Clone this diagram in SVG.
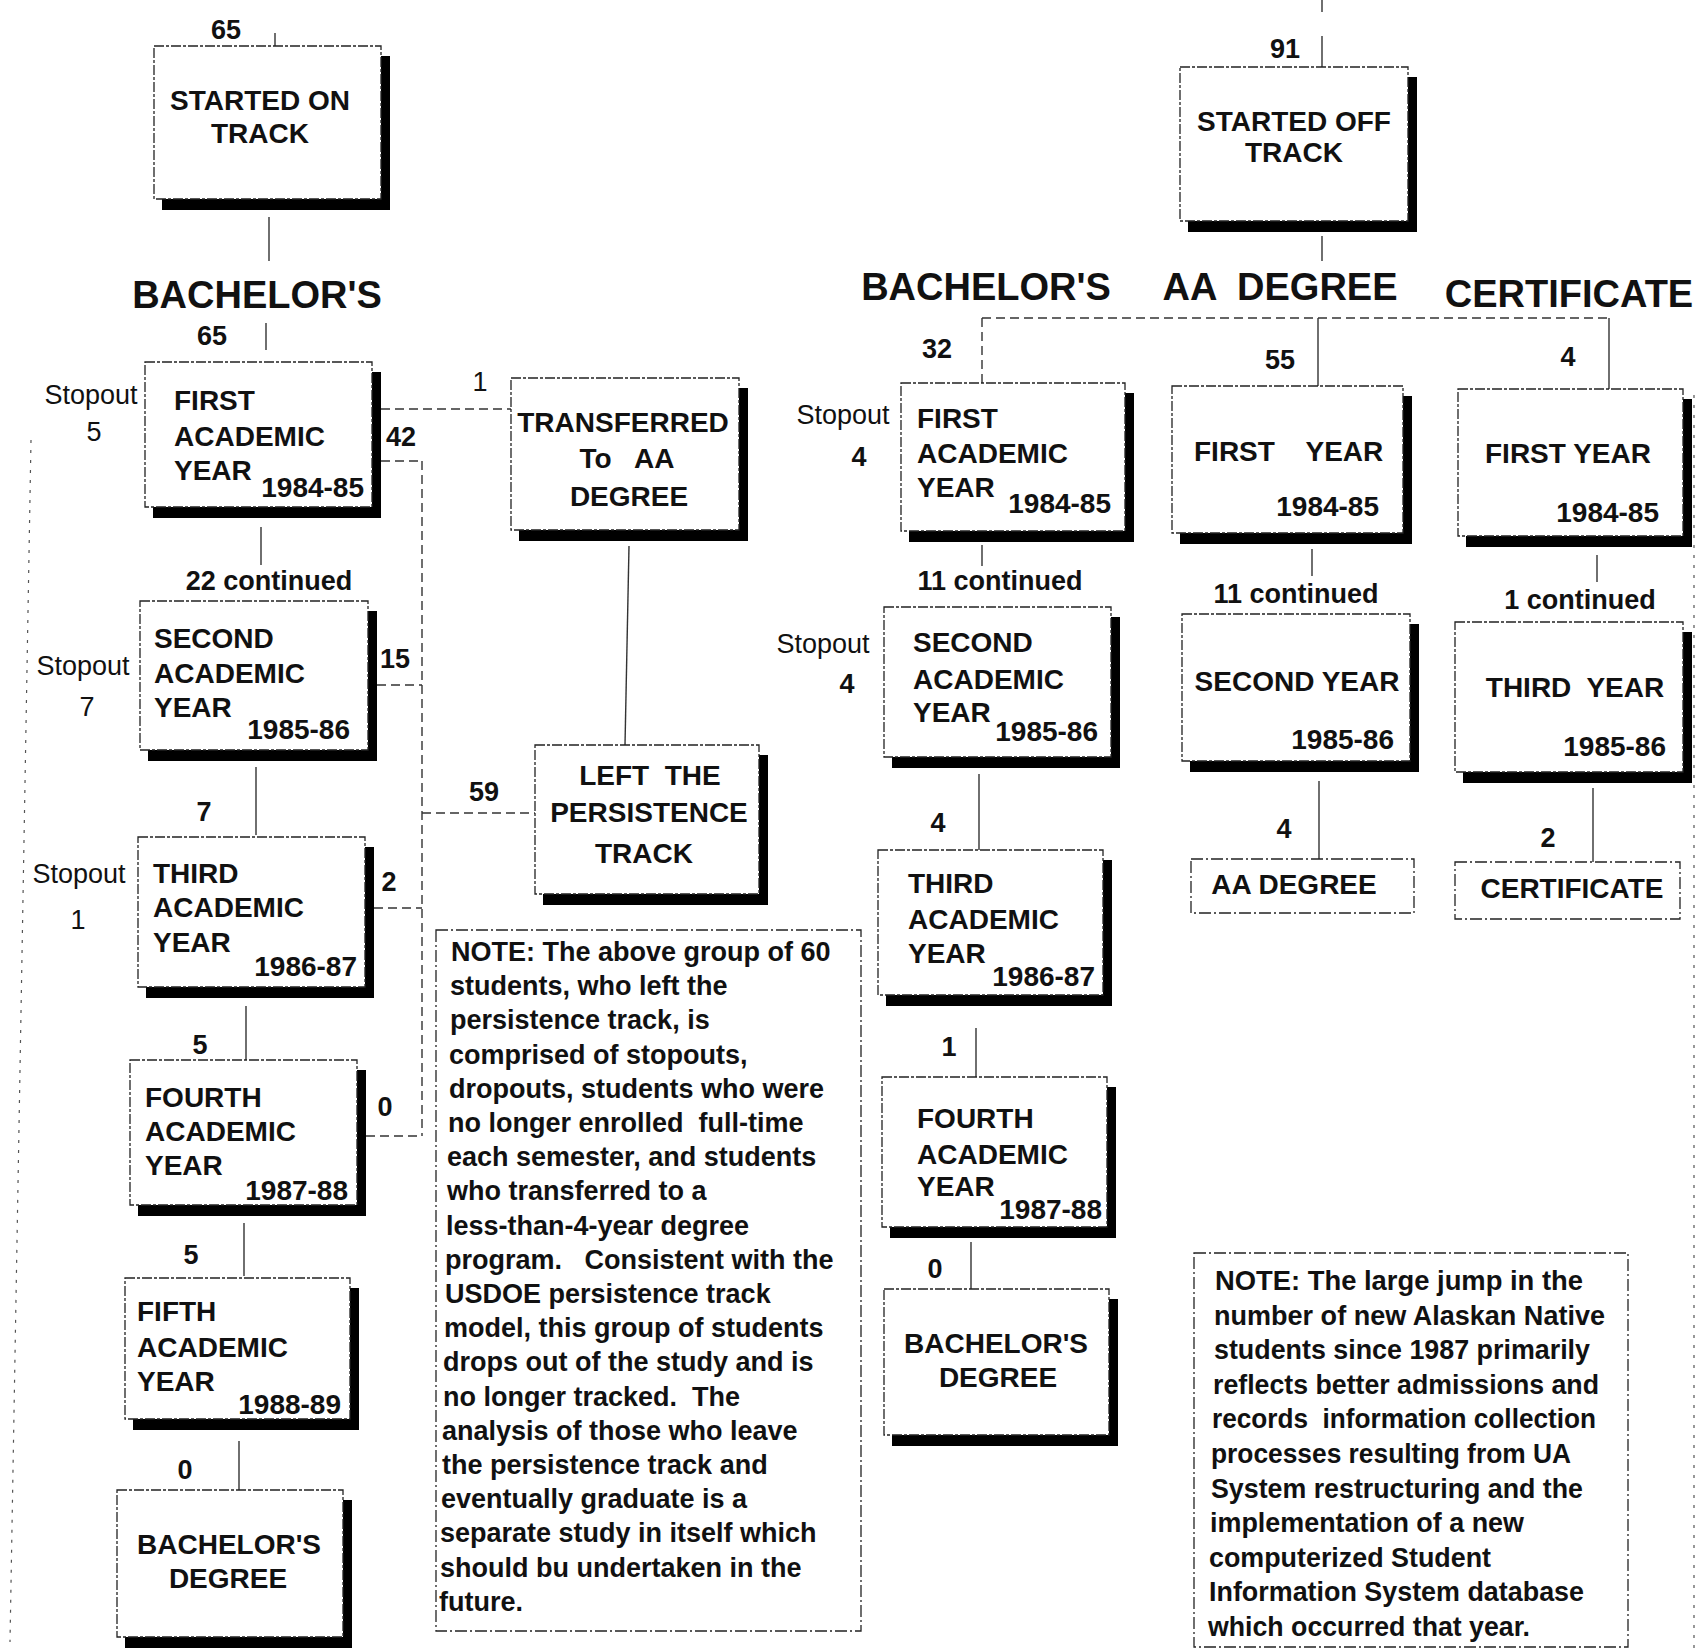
<svg xmlns="http://www.w3.org/2000/svg" width="1705" height="1650" viewBox="0 0 1705 1650">
<style>
  .bg{fill:#fff}
  .bx{fill:#fff;stroke:#222;stroke-width:1.3;stroke-dasharray:10 2 3 2}
  .nb{fill:none;stroke:#222;stroke-width:1.3;stroke-dasharray:12 3 2 3}
  .sh{fill:#000}
  .ln{stroke:#333;stroke-width:1.4;fill:none}
  .dl{stroke:#333;stroke-width:1.4;fill:none;stroke-dasharray:9 5}
  .rl{stroke:#555;stroke-width:1.2;fill:none;stroke-dasharray:3 7}
  text{font-family:"Liberation Sans",Arial,sans-serif;fill:#111}
  .t{font-size:28px;font-weight:700}
  .h{font-size:38px;font-weight:700}
  .c{font-size:27px;font-weight:700}
  .s{font-size:27px;font-weight:400}
  .n1{font-size:27px;font-weight:700}
  .n2{font-size:28px;font-weight:700}
  .m{text-anchor:middle}
  .e{text-anchor:end}
</style>
<rect class="bg" x="0" y="0" width="1705" height="1650"/>

<!-- connectors -->
<g id="connectors">
  <!-- on-track column -->
  <line class="ln" x1="275" y1="33" x2="275" y2="46"/>
  <line class="ln" x1="269" y1="217" x2="269" y2="261"/>
  <line class="ln" x1="266" y1="323" x2="266" y2="350"/>
  <line class="ln" x1="261" y1="527" x2="261" y2="565"/>
  <line class="ln" x1="256" y1="767" x2="256" y2="835"/>
  <line class="ln" x1="246" y1="1006" x2="246" y2="1060"/>
  <line class="ln" x1="244" y1="1223" x2="244" y2="1276"/>
  <line class="ln" x1="239" y1="1441" x2="239" y2="1490"/>
  <!-- stopout rail -->
  <line class="rl" x1="31" y1="440" x2="10" y2="1642"/>
  <!-- transfer and leaving branches -->
  <line class="dl" x1="381" y1="409" x2="511" y2="409"/>
  <line class="dl" x1="381" y1="461" x2="422" y2="461"/>
  <line class="dl" x1="422" y1="461" x2="422" y2="1136"/>
  <line class="dl" x1="377" y1="685" x2="422" y2="685"/>
  <line class="dl" x1="374" y1="908" x2="422" y2="908"/>
  <line class="dl" x1="366" y1="1136" x2="422" y2="1136"/>
  <line class="dl" x1="422" y1="813" x2="535" y2="813"/>
  <line class="ln" x1="629" y1="546" x2="625" y2="745"/>
  <!-- off-track columns -->
  <line class="ln" x1="1322" y1="0" x2="1322" y2="12"/>
  <line class="ln" x1="1322" y1="36" x2="1322" y2="67"/>
  <line class="ln" x1="1322" y1="236" x2="1322" y2="261"/>
  <line class="dl" x1="982" y1="318" x2="1609" y2="318"/>
  <line class="dl" x1="982" y1="318" x2="982" y2="383"/>
  <line class="ln" x1="1318" y1="318" x2="1318" y2="386"/>
  <line class="ln" x1="1609" y1="318" x2="1609" y2="389"/>
  <line class="ln" x1="982" y1="545" x2="982" y2="566"/>
  <line class="ln" x1="1312" y1="549" x2="1312" y2="576"/>
  <line class="ln" x1="1597" y1="555" x2="1597" y2="582"/>
  <line class="ln" x1="979" y1="774" x2="979" y2="850"/>
  <line class="ln" x1="1319" y1="781" x2="1319" y2="859"/>
  <line class="ln" x1="1593" y1="788" x2="1593" y2="862"/>
  <line class="ln" x1="976" y1="1028" x2="976" y2="1077"/>
  <line class="ln" x1="971" y1="1242" x2="971" y2="1289"/>
  <line class="rl" x1="1694" y1="395" x2="1694" y2="1648"/>
</g>

<!-- count and stopout labels -->
<g id="labels">
  <text class="c m" x="226" y="39">65</text>
  <text class="h m" x="257" y="308">BACHELOR'S</text>
  <text class="c m" x="212" y="345">65</text>
  <text class="s m" x="91" y="404">Stopout</text>
  <text class="s m" x="94" y="441">5</text>
  <text class="c m" x="401" y="446">42</text>
  <text class="s m" x="480" y="391">1</text>
  <text class="c m" x="269" y="590">22 continued</text>
  <text class="s m" x="83" y="675">Stopout</text>
  <text class="s m" x="87" y="716">7</text>
  <text class="c m" x="395" y="668">15</text>
  <text class="c m" x="204" y="821">7</text>
  <text class="s m" x="79" y="883">Stopout</text>
  <text class="s m" x="78" y="929">1</text>
  <text class="c m" x="389" y="891">2</text>
  <text class="c m" x="200" y="1054">5</text>
  <text class="c m" x="385" y="1116">0</text>
  <text class="c m" x="191" y="1264">5</text>
  <text class="c m" x="185" y="1479">0</text>
  <text class="c m" x="484" y="801">59</text>

  <text class="c m" x="1285" y="58">91</text>
  <text class="h m" x="986" y="300">BACHELOR'S</text>
  <text class="h m" x="1280" y="300" xml:space="preserve">AA  DEGREE</text>
  <text class="h m" x="1569" y="307">CERTIFICATE</text>
  <text class="c m" x="937" y="358">32</text>
  <text class="c m" x="1280" y="369">55</text>
  <text class="c m" x="1568" y="366">4</text>
  <text class="s m" x="843" y="424">Stopout</text>
  <text class="c m" x="859" y="466">4</text>
  <text class="c m" x="1000" y="590">11 continued</text>
  <text class="c m" x="1296" y="603">11 continued</text>
  <text class="c m" x="1580" y="609">1 continued</text>
  <text class="s m" x="823" y="653">Stopout</text>
  <text class="c m" x="847" y="693">4</text>
  <text class="c m" x="938" y="832">4</text>
  <text class="c m" x="1284" y="838">4</text>
  <text class="c m" x="1548" y="847">2</text>
  <text class="c m" x="949" y="1056">1</text>
  <text class="c m" x="935" y="1278">0</text>
</g>

<!-- on-track bachelor's column -->
<g id="started-on-track">
  <path class="sh" d="M162 199H381V56h9V210H162Z"/>
  <rect class="bx" x="154" y="46" width="227" height="153"/>
  <text class="t m" x="260" y="110">STARTED ON</text>
  <text class="t m" x="260" y="143">TRACK</text>
</g>
<g id="on-first-year">
  <path class="sh" d="M153 507H372V372h9V518H153Z"/>
  <rect class="bx" x="145" y="362" width="227" height="145"/>
  <text class="t" x="174" y="410">FIRST</text>
  <text class="t" x="174" y="446">ACADEMIC</text>
  <text class="t" x="174" y="480">YEAR</text>
  <text class="t e" x="364" y="497">1984-85</text>
</g>
<g id="on-second-year">
  <path class="sh" d="M148 750H368V611h9V761H148Z"/>
  <rect class="bx" x="140" y="601" width="228" height="149"/>
  <text class="t" x="154" y="648">SECOND</text>
  <text class="t" x="154" y="683">ACADEMIC</text>
  <text class="t" x="154" y="717">YEAR</text>
  <text class="t e" x="350" y="739">1985-86</text>
</g>
<g id="on-third-year">
  <path class="sh" d="M146 987H365V847h9V998H146Z"/>
  <rect class="bx" x="138" y="837" width="227" height="150"/>
  <text class="t" x="153" y="883">THIRD</text>
  <text class="t" x="153" y="917">ACADEMIC</text>
  <text class="t" x="153" y="952">YEAR</text>
  <text class="t e" x="357" y="976">1986-87</text>
</g>
<g id="on-fourth-year">
  <path class="sh" d="M138 1205H357V1070h9V1216H138Z"/>
  <rect class="bx" x="130" y="1060" width="227" height="145"/>
  <text class="t" x="145" y="1107">FOURTH</text>
  <text class="t" x="145" y="1141">ACADEMIC</text>
  <text class="t" x="145" y="1175">YEAR</text>
  <text class="t e" x="348" y="1200">1987-88</text>
</g>
<g id="on-fifth-year">
  <path class="sh" d="M133 1419H350V1288h9V1430H133Z"/>
  <rect class="bx" x="125" y="1278" width="225" height="141"/>
  <text class="t" x="137" y="1321">FIFTH</text>
  <text class="t" x="137" y="1357">ACADEMIC</text>
  <text class="t" x="137" y="1391">YEAR</text>
  <text class="t e" x="341" y="1414">1988-89</text>
</g>
<g id="on-bachelors-degree">
  <path class="sh" d="M125 1637H343V1500h9V1648H125Z"/>
  <rect class="bx" x="117" y="1490" width="226" height="147"/>
  <text class="t m" x="229" y="1554">BACHELOR'S</text>
  <text class="t m" x="228" y="1588">DEGREE</text>
</g>

<!-- middle column -->
<g id="transferred-aa">
  <path class="sh" d="M519 530H739V388h9V541H519Z"/>
  <rect class="bx" x="511" y="378" width="228" height="152"/>
  <text class="t m" x="623" y="432">TRANSFERRED</text>
  <text class="t m" x="627" y="468" xml:space="preserve">To   AA</text>
  <text class="t m" x="629" y="506">DEGREE</text>
</g>
<g id="left-persistence">
  <path class="sh" d="M543 894H759V755h9V905H543Z"/>
  <rect class="bx" x="535" y="745" width="224" height="149"/>
  <text class="t m" x="650" y="785" xml:space="preserve">LEFT  THE</text>
  <text class="t m" x="649" y="822">PERSISTENCE</text>
  <text class="t m" x="644" y="863">TRACK</text>
</g>
<g id="note-left-track">
  <rect class="nb" x="436" y="930" width="425" height="701"/>
  <text class="n1" x="451" y="961">NOTE: The above group of 60</text>
  <text class="n1" x="450" y="995">students, who left the</text>
  <text class="n1" x="450" y="1029">persistence track, is</text>
  <text class="n1" x="449" y="1064">comprised of stopouts,</text>
  <text class="n1" x="449" y="1098">dropouts, students who were</text>
  <text class="n1" x="448" y="1132" xml:space="preserve">no longer enrolled  full-time</text>
  <text class="n1" x="447" y="1166">each semester, and students</text>
  <text class="n1" x="447" y="1200">who transferred to a</text>
  <text class="n1" x="446" y="1235">less-than-4-year degree</text>
  <text class="n1" x="445" y="1269" xml:space="preserve">program.   Consistent with the</text>
  <text class="n1" x="445" y="1303">USDOE persistence track</text>
  <text class="n1" x="444" y="1337">model, this group of students</text>
  <text class="n1" x="443" y="1371">drops out of the study and is</text>
  <text class="n1" x="443" y="1406" xml:space="preserve">no longer tracked.  The</text>
  <text class="n1" x="442" y="1440">analysis of those who leave</text>
  <text class="n1" x="442" y="1474">the persistence track and</text>
  <text class="n1" x="441" y="1508">eventually graduate is a</text>
  <text class="n1" x="440" y="1542">separate study in itself which</text>
  <text class="n1" x="440" y="1577">should bu undertaken in the</text>
  <text class="n1" x="439" y="1611">future.</text>
</g>

<!-- off-track columns -->
<g id="started-off-track">
  <path class="sh" d="M1188 221H1408V77h9V232H1188Z"/>
  <rect class="bx" x="1180" y="67" width="228" height="154"/>
  <text class="t m" x="1294" y="131">STARTED OFF</text>
  <text class="t m" x="1294" y="162">TRACK</text>
</g>
<g id="off-ba-first-year">
  <path class="sh" d="M909 531H1125V393h9V542H909Z"/>
  <rect class="bx" x="901" y="383" width="224" height="148"/>
  <text class="t" x="917" y="428">FIRST</text>
  <text class="t" x="917" y="463">ACADEMIC</text>
  <text class="t" x="917" y="497">YEAR</text>
  <text class="t e" x="1111" y="513">1984-85</text>
</g>
<g id="off-aa-first-year">
  <path class="sh" d="M1180 533H1403V396h9V544H1180Z"/>
  <rect class="bx" x="1172" y="386" width="231" height="147"/>
  <text class="t" x="1194" y="461" xml:space="preserve">FIRST    YEAR</text>
  <text class="t e" x="1379" y="516">1984-85</text>
</g>
<g id="off-cert-first-year">
  <path class="sh" d="M1466 536H1683V399h9V547H1466Z"/>
  <rect class="bx" x="1458" y="389" width="225" height="147"/>
  <text class="t m" x="1568" y="463">FIRST YEAR</text>
  <text class="t e" x="1659" y="522">1984-85</text>
</g>
<g id="off-ba-second-year">
  <path class="sh" d="M892 757H1111V617h9V768H892Z"/>
  <rect class="bx" x="884" y="607" width="227" height="150"/>
  <text class="t" x="913" y="652">SECOND</text>
  <text class="t" x="913" y="689">ACADEMIC</text>
  <text class="t" x="913" y="722">YEAR</text>
  <text class="t e" x="1098" y="741">1985-86</text>
</g>
<g id="off-aa-second-year">
  <path class="sh" d="M1190 761H1410V624h9V772H1190Z"/>
  <rect class="bx" x="1182" y="614" width="228" height="147"/>
  <text class="t m" x="1297" y="691">SECOND YEAR</text>
  <text class="t e" x="1394" y="749">1985-86</text>
</g>
<g id="off-cert-third-year">
  <path class="sh" d="M1463 772H1683V632h9V783H1463Z"/>
  <rect class="bx" x="1455" y="622" width="228" height="150"/>
  <text class="t m" x="1575" y="697" xml:space="preserve">THIRD  YEAR</text>
  <text class="t e" x="1666" y="756">1985-86</text>
</g>
<g id="aa-degree">
  <rect class="nb" x="1191" y="859" width="223" height="54"/>
  <text class="t m" x="1294" y="894">AA DEGREE</text>
</g>
<g id="certificate">
  <rect class="nb" x="1455" y="862" width="225" height="57"/>
  <text class="t m" x="1572" y="898">CERTIFICATE</text>
</g>
<g id="off-ba-third-year">
  <path class="sh" d="M886 995H1103V860h9V1006H886Z"/>
  <rect class="bx" x="878" y="850" width="225" height="145"/>
  <text class="t" x="908" y="893">THIRD</text>
  <text class="t" x="908" y="929">ACADEMIC</text>
  <text class="t" x="908" y="963">YEAR</text>
  <text class="t e" x="1095" y="986">1986-87</text>
</g>
<g id="off-ba-fourth-year">
  <path class="sh" d="M890 1227H1107V1087h9V1238H890Z"/>
  <rect class="bx" x="882" y="1077" width="225" height="150"/>
  <text class="t" x="917" y="1128">FOURTH</text>
  <text class="t" x="917" y="1164">ACADEMIC</text>
  <text class="t" x="917" y="1196">YEAR</text>
  <text class="t e" x="1102" y="1219">1987-88</text>
</g>
<g id="off-bachelors-degree">
  <path class="sh" d="M892 1435H1109V1299h9V1446H892Z"/>
  <rect class="bx" x="884" y="1289" width="225" height="146"/>
  <text class="t m" x="996" y="1353">BACHELOR'S</text>
  <text class="t m" x="998" y="1387">DEGREE</text>
</g>
<g id="note-enrollment-jump">
  <rect class="nb" x="1194" y="1253" width="434" height="394"/>
  <text class="n2" x="1215" y="1290" textLength="368" lengthAdjust="spacingAndGlyphs">NOTE: The large jump in the</text>
  <text class="n2" x="1214" y="1325" textLength="391" lengthAdjust="spacingAndGlyphs">number of new Alaskan Native</text>
  <text class="n2" x="1214" y="1359" textLength="376" lengthAdjust="spacingAndGlyphs">students since 1987 primarily</text>
  <text class="n2" x="1213" y="1394" textLength="386" lengthAdjust="spacingAndGlyphs">reflects better admissions and</text>
  <text class="n2" x="1212" y="1428" textLength="384" lengthAdjust="spacingAndGlyphs" xml:space="preserve">records  information collection</text>
  <text class="n2" x="1211" y="1463" textLength="360" lengthAdjust="spacingAndGlyphs">processes resulting from UA</text>
  <text class="n2" x="1211" y="1498" textLength="372" lengthAdjust="spacingAndGlyphs">System restructuring and the</text>
  <text class="n2" x="1210" y="1532" textLength="314" lengthAdjust="spacingAndGlyphs">implementation of a new</text>
  <text class="n2" x="1209" y="1567" textLength="282" lengthAdjust="spacingAndGlyphs">computerized Student</text>
  <text class="n2" x="1209" y="1601" textLength="375" lengthAdjust="spacingAndGlyphs">Information System database</text>
  <text class="n2" x="1208" y="1636" textLength="322" lengthAdjust="spacingAndGlyphs">which occurred that year.</text>
</g>
</svg>
